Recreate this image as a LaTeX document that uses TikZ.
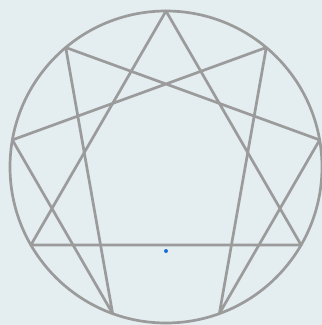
\documentclass[tikz,border=0pt]{standalone}
\usepackage{xcolor}
\definecolor{bgcol}{RGB}{228,237,240}
\definecolor{linecol}{RGB}{155,155,155}
\definecolor{dotcol}{RGB}{30,110,210}

\begin{document}
\begin{tikzpicture}[x=1pt, y=-1pt,
  ennea/.style={draw=linecol, line width=2.7pt, line join=round}]

\def\cx{166}
\def\cy{167}
\def\rad{156}

% BACKGROUND
\fill[bgcol] (0,0) rectangle (322,325);
\useasboundingbox (0,0) rectangle (322,325);

% POINTS ON THE CIRCLE
\foreach \k in {0,...,8}
  \coordinate (p\k) at ({\cx+\rad*sin(40*\k)}, {\cy-\rad*cos(40*\k)});
\coordinate (centre) at (\cx,\cy);

% CIRCLE
\draw[ennea] (centre) circle [radius=\rad pt];

% TRIANGLE 9-3-6
\draw[ennea] (p0) -- (p3) -- (p6) -- cycle;

% HEXAD 1-4-2-8-5-7
\draw[ennea] (p1) -- (p4) -- (p2) -- (p8) -- (p5) -- (p7) -- cycle;

% small dot
\node[circle, fill=dotcol, inner sep=0pt, minimum size=4pt] (dot) at (166,251) {};

\end{tikzpicture}
\end{document}
